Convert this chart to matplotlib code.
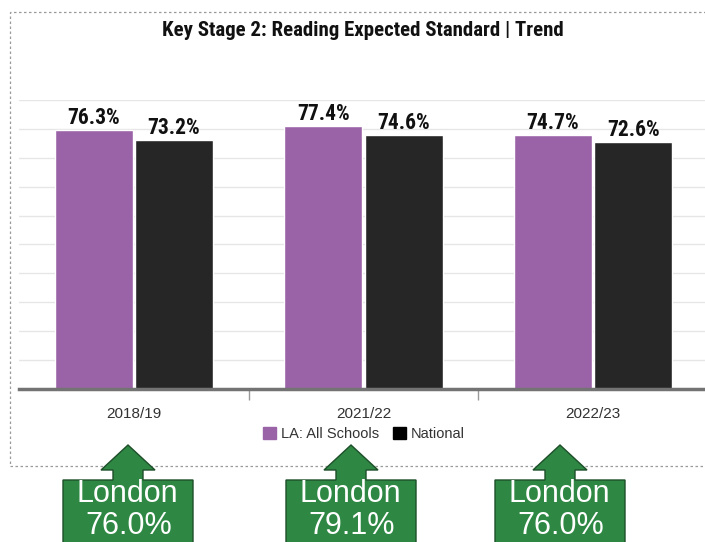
import matplotlib
matplotlib.use('Agg')
import matplotlib.pyplot as plt
from matplotlib import font_manager
from matplotlib.patches import Polygon, Rectangle, Patch
import numpy as np

years = ['2018/19', '2021/22', '2022/23']
la_schools = [76.3, 77.4, 74.7]
national = [73.2, 74.6, 72.6]
london = [76.0, 79.1, 76.0]

W, H = 705, 542

# pick a narrow bold font if there is one
names = {f.name for f in font_manager.fontManager.ttflist}
narrow = 'DejaVu Sans'
for cand in ['Liberation Sans Narrow', 'DejaVu Sans Condensed', 'Roboto Condensed']:
    if cand in names:
        narrow = cand
        break
plt.rcParams['font.family'] = ['Liberation Sans', 'DejaVu Sans']

purple = '#9b63a7'
dark = '#262626'

fig = plt.figure(figsize=(W / 100, H / 100), dpi=100)

def fx(x):
    return x / W

def fy(y):
    return 1 - y / H

ax = fig.add_axes([fx(19), fy(389), fx(708) - fx(19), fy(100) - fy(389)])

x = np.arange(len(years))
bw = 0.34
b1 = ax.bar(x - 0.175, la_schools, bw, color=purple, edgecolor='white', linewidth=1, zorder=3)
b2 = ax.bar(x + 0.175, national, bw, color=dark, edgecolor='white', linewidth=1, zorder=3)

for bars, vals in [(b1, la_schools), (b2, national)]:
    for b, v in zip(bars, vals):
        ax.text(b.get_x() + b.get_width() / 2, v + 0.3, f'{v:.1f}%', ha='center', va='bottom',
                fontsize=15.5, fontweight='bold', family=[narrow, 'DejaVu Sans'], color='#111111', zorder=4)

ax.set_xlim(-0.5, 2.5)
ax.set_ylim(0, 85)
ax.set_yticks(np.linspace(0, 85, 11))
ax.yaxis.grid(True, color='#e6e6e6', linewidth=1, zorder=0)
ax.tick_params(axis='y', length=0, labelleft=False)
ax.set_xticks(x)
ax.set_xticklabels(years, fontsize=11, color='#333333')
ax.tick_params(axis='x', length=0, pad=13)
ax.set_xticks([0.5, 1.5], minor=True)
ax.tick_params(axis='x', which='minor', length=8, width=1, color='#999999')
for s in ['top', 'right', 'left']:
    ax.spines[s].set_visible(False)
ax.spines['bottom'].set_color('#737373')
ax.spines['bottom'].set_linewidth(2.5)
ax.spines['bottom'].set_zorder(5)

fig.text(fx(363), fy(31), 'Key Stage 2: Reading Expected Standard | Trend', ha='center', va='center',
         fontsize=15, fontweight='bold', family=[narrow, 'DejaVu Sans'], color='#111111')

handles = [Patch(facecolor=purple, edgecolor=purple), Patch(facecolor='black', edgecolor='black')]
fig.legend(handles, ['LA: All Schools', 'National'], loc='center', bbox_to_anchor=(fx(364), fy(434)),
           ncol=2, frameon=False, fontsize=10.5, labelcolor='#333333', handlelength=0.9, handleheight=0.9,
           handletextpad=0.3, columnspacing=1.0, borderpad=0)

# dotted frame around the chart
fig.patches.append(Rectangle((fx(10), fy(466)), fx(760) - fx(10), fy(12) - fy(466), transform=fig.transFigure,
                             fill=False, edgecolor='#9a9a9a', linestyle=(0, (2, 2)), linewidth=0.9))

# London callouts
centres = [128, 351, 560]
for cx, v in zip(centres, london):
    pts = [(cx - 65, 570), (cx - 65, 480), (cx - 15, 480), (cx - 15, 470), (cx - 27, 470), (cx, 445),
           (cx + 27, 470), (cx + 15, 470), (cx + 15, 480), (cx + 65, 480), (cx + 65, 570)]
    fig.patches.append(Polygon([(fx(a), fy(b)) for a, b in pts], closed=True, transform=fig.transFigure,
                               facecolor='#2e8844', edgecolor='#1d4f29', linewidth=1))
    fig.text(fx(cx - 1), fy(494), 'London', ha='center', va='center', fontsize=22, color='white')
    fig.text(fx(cx + 1), fy(540.5), f'{v:.1f}%', ha='center', va='bottom', fontsize=22, color='white')

fig.savefig('out.png', dpi=100)
